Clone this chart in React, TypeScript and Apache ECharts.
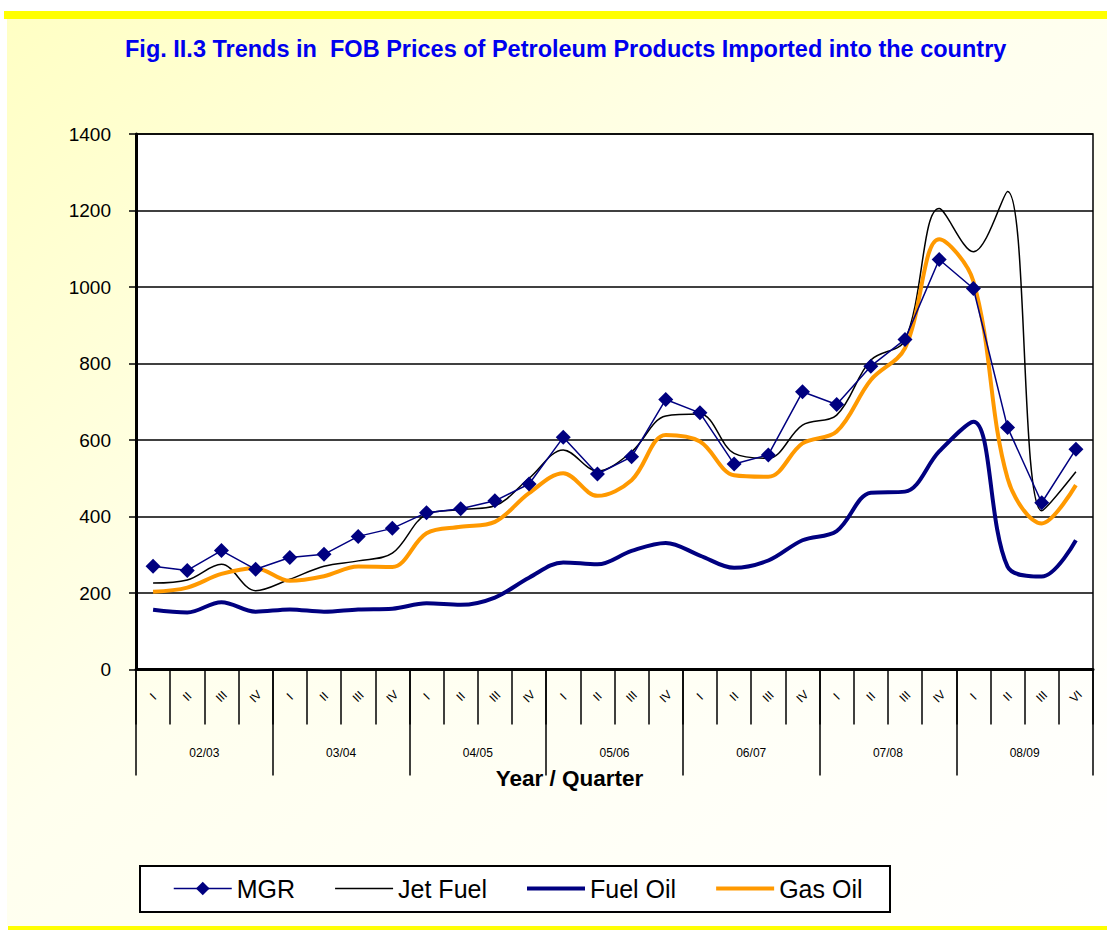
import React, { useEffect, useRef } from "react";
import * as echarts from "echarts";

const TITLE = "Fig. II.3 Trends in  FOB Prices of Petroleum Products Imported into the country";
const AXIS_NAME = "Year / Quarter";

const years = ["02/03", "03/04", "04/05", "05/06", "06/07", "07/08", "08/09"];
const quarters = [
  "I", "II", "III", "IV",
  "I", "II", "III", "IV",
  "I", "II", "III", "IV",
  "I", "II", "III", "IV",
  "I", "II", "III", "IV",
  "I", "II", "III", "IV",
  "I", "II", "III", "VI",
];

const mgr = [270, 259, 311, 262, 293, 301, 348, 369, 410, 420, 441, 485, 607, 511, 556, 706, 671, 537, 561, 726, 693, 793, 863, 1072, 996, 633, 436, 576];
const jetFuel = [226, 234, 275, 206, 236, 270, 284, 304, 406, 418, 428, 500, 574, 519, 569, 663, 668, 565, 552, 639, 665, 809, 861, 1205, 1092, 1250, 415, 517];
const fuelOil = [156, 149, 176, 151, 157, 151, 157, 159, 173, 169, 188, 240, 280, 275, 310, 331, 298, 266, 285, 338, 362, 462, 465, 570, 648, 269, 243, 338];
const gasOil = [203, 214, 250, 265, 232, 244, 269, 268, 356, 373, 386, 461, 513, 454, 495, 613, 596, 508, 504, 591, 622, 757, 840, 1125, 1015, 500, 382, 482];

const yTicks = { min: 0, max: 1400, interval: 200 };

const FONT = '"Liberation Sans", Arial, Helvetica, sans-serif';
const NAVY = "#000080";
const ORANGE = "#FF9900";

export default function App() {
  const ref = useRef<HTMLDivElement>(null);

  useEffect(() => {
    if (!ref.current) return;
    const chart = echarts.init(ref.current, null, { renderer: "svg" });
    const option: any = {
      animation: false,
      title: {
        text: TITLE,
        left: 125,
        top: 37,
        padding: 0,
        textStyle: { color: "#0000EE", fontSize: 23.5, fontWeight: "bold", fontFamily: FONT },
      },
      graphic: [
        {
          type: "rect",
          z: -10,
          shape: { x: 7, y: 19, width: 1100, height: 907 },
          style: {
            fill: new echarts.graphic.LinearGradient(0, 0, 1, 1, [
              { offset: 0, color: "#FFFFC4" },
              { offset: 0.45, color: "#FFFFEE" },
              { offset: 1, color: "#FFFFFF" },
            ]),
          },
        },
        { type: "rect", z: -9, shape: { x: 4, y: 11, width: 1103, height: 8 }, style: { fill: "#FFFF00" } },
        { type: "rect", z: -9, shape: { x: 8, y: 926, width: 1099, height: 4 }, style: { fill: "#FFFF00" } },
        {
          type: "rect",
          z: -5,
          shape: { x: 140, y: 866, width: 750, height: 46 },
          style: { fill: "#FFFFFF", stroke: "#000000", lineWidth: 2 },
        },
        {
          type: "text",
          x: 569.5,
          y: 778,
          style: {
            text: AXIS_NAME,
            align: "center",
            verticalAlign: "middle",
            textAlign: "center",
            textVerticalAlign: "middle",
            fontSize: 22.5,
            fontWeight: "bold",
            fontFamily: FONT,
            fill: "#000000",
          },
        },
      ],
      legend: {
        left: 173,
        top: 876,
        padding: 0,
        itemWidth: 58,
        itemHeight: 17,
        itemGap: 40,
        lineStyle: { width: "inherit" },
        textStyle: { fontSize: 25, color: "#000", fontFamily: FONT },
        data: [
          { name: "MGR" },
          { name: "Jet Fuel", icon: "path://M0,0h58v1.5h-58z" },
          { name: "Fuel Oil", icon: "path://M0,0h58v4h-58z" },
          { name: "Gas Oil", icon: "path://M0,0h58v4h-58z" },
        ],
      },
      grid: {
        left: 136,
        right: 14,
        top: 134,
        bottom: 260.5,
        show: true,
        backgroundColor: "#FFFFFF",
        borderColor: "#000000",
        borderWidth: 1.5,
      },
      xAxis: [
        {
          type: "category",
          position: "bottom",
          data: quarters,
          boundaryGap: true,
          axisLine: { onZero: false, lineStyle: { color: "#000", width: 3 } },
          axisTick: { show: true, interval: 0, length: 55, lineStyle: { color: "#000", width: 1.5 } },
          axisLabel: {
            interval: 0,
            rotate: 45,
            align: "center",
            verticalAlign: "middle",
            margin: 27,
            fontSize: 12,
            color: "#000",
            fontFamily: FONT,
          },
          splitLine: { show: false },
        },
        {
          type: "category",
          position: "bottom",
          data: years,
          boundaryGap: true,
          axisLine: { show: false, onZero: false },
          axisTick: { show: true, interval: 0, length: 106, lineStyle: { color: "#000", width: 1.5 } },
          axisLabel: {
            interval: 0,
            margin: 77,
            fontSize: 12,
            color: "#000",
            fontFamily: FONT,
          },
          splitLine: { show: false },
        },
      ],
      yAxis: {
        type: "value",
        min: yTicks.min,
        max: yTicks.max,
        interval: yTicks.interval,
        axisLine: { show: true, lineStyle: { color: "#000", width: 3 } },
        axisTick: { show: true, length: 7, lineStyle: { color: "#000", width: 1.5 } },
        axisLabel: {
          color: "#000",
          fontSize: 19,
          margin: 25,
          fontFamily: FONT,
          formatter: (v: number) => String(v),
        },
        splitLine: { show: true, lineStyle: { color: "#000", width: 1.5 } },
      },
      series: [
        {
          name: "Jet Fuel",
          type: "line",
          data: jetFuel,
          smooth: 0.35,
          showSymbol: false,
          symbol: "none",
          z: 3,
          lineStyle: { color: "#000000", width: 1.5 },
          itemStyle: { color: "#000000" },
        },
        {
          name: "Fuel Oil",
          type: "line",
          data: fuelOil,
          smooth: 0.35,
          showSymbol: false,
          symbol: "none",
          z: 3,
          lineStyle: { color: NAVY, width: 4 },
          itemStyle: { color: NAVY },
        },
        {
          name: "Gas Oil",
          type: "line",
          data: gasOil,
          smooth: 0.35,
          showSymbol: false,
          symbol: "none",
          z: 3,
          lineStyle: { color: ORANGE, width: 4 },
          itemStyle: { color: ORANGE },
        },
        {
          name: "MGR",
          type: "line",
          data: mgr,
          smooth: false,
          symbol: "diamond",
          symbolSize: 15,
          z: 5,
          lineStyle: { color: NAVY, width: 1.5 },
          itemStyle: { color: NAVY },
        },
      ],
    };
    chart.setOption(option);
    return () => chart.dispose();
  }, []);

  return (
    <div
      ref={ref}
      style={{ position: "absolute", left: 0, top: 0, width: 1107, height: 930 }}
    />
  );
}
